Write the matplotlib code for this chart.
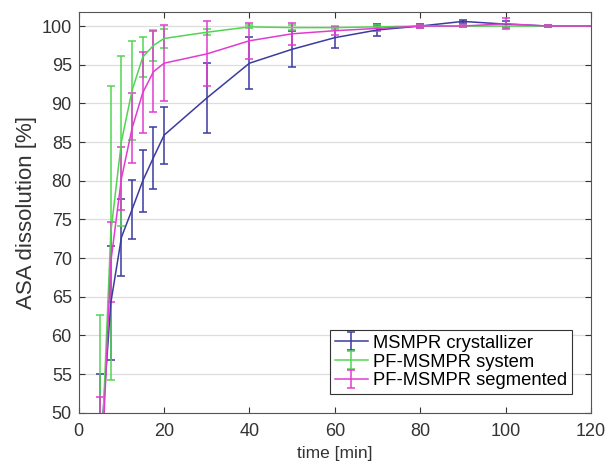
import matplotlib.pyplot as plt

plt.rcParams['font.family'] = ['Liberation Sans', 'DejaVu Sans']

# time points [min]
t = [5, 7.5, 10, 12.5, 15, 17.5, 20, 30, 40, 50, 60, 70, 80, 90, 100, 110, 120]

# MSMPR crystallizer
msmpr = [44.5, 64.2, 72.7, 76.3, 80.0, 83.0, 85.9, 90.7, 95.2, 97.0, 98.5, 99.5, 100.0, 100.6, 100.25, 100.0, 100.0]
msmpr_err = [10.5, 7.4, 5.0, 3.8, 4.0, 4.0, 3.7, 4.5, 3.4, 2.3, 1.4, 0.8, 0.3, 0.15, 0.4, 0.1, 0.0]

# PF-MSMPR system
pf_sys = [40.0, 73.3, 85.1, 91.7, 96.0, 97.5, 98.4, 99.2, 99.9, 99.8, 99.8, 99.9, 100.0, 100.0, 100.0, 100.0, 100.0]
pf_sys_err = [22.7, 19.0, 11.0, 6.4, 2.6, 2.0, 1.2, 0.4, 0.2, 0.3, 0.2, 0.2, 0.2, 0.1, 0.3, 0.1, 0.0]

# PF-MSMPR segmented
pf_seg = [38.0, 69.5, 80.3, 86.8, 91.4, 94.1, 95.2, 96.4, 98.1, 99.0, 99.4, 99.7, 100.0, 100.0, 100.3, 100.0, 100.0]
pf_seg_err = [14.1, 5.2, 4.1, 4.5, 5.2, 5.2, 4.9, 4.2, 2.3, 1.4, 0.5, 0.3, 0.2, 0.1, 0.7, 0.1, 0.0]

fig = plt.figure(figsize=(6.06, 4.67), dpi=100)
ax = fig.add_axes([0.130, 0.116, 0.845, 0.858])

style = dict(lw=1.1, elinewidth=1.1, capsize=3.2, capthick=1.1)
ax.errorbar(t, msmpr, yerr=msmpr_err, color='#3b3ba0', label='MSMPR crystallizer', **style)
ax.errorbar(t, pf_sys, yerr=pf_sys_err, color='#52d452', label='PF-MSMPR system', **style)
ax.errorbar(t, pf_seg, yerr=pf_seg_err, color='#e03cd0', label='PF-MSMPR segmented', **style)

ax.set_xlim(0, 120)
ax.set_ylim(50, 101.8)
ax.set_xticks(range(0, 121, 20))
ax.set_yticks(range(50, 101, 5))
ax.yaxis.grid(True, color='#dddddd', lw=0.9)
ax.set_axisbelow(True)
ax.tick_params(direction='in', top=True, right=True, labelsize=13, colors='#333333',
               length=4)
ax.tick_params(axis='x', pad=7)
ax.tick_params(axis='y', pad=5)
for s in ax.spines.values():
    s.set_color('#555555')

ax.set_xlabel('time [min]', fontsize=12.5, color='#333333', labelpad=5)
ax.set_ylabel('ASA dissolution [%]', fontsize=16, color='#333333', labelpad=3)

leg = ax.legend(loc='lower right', bbox_to_anchor=(0.963, 0.047), borderaxespad=0,
                fontsize=13.2, fancybox=False, framealpha=1, edgecolor='#333333',
                handlelength=1.8, handletextpad=0.3, labelspacing=0.1, borderpad=0.25)
leg.get_frame().set_linewidth(0.8)

fig.savefig('out.png', dpi=100)
